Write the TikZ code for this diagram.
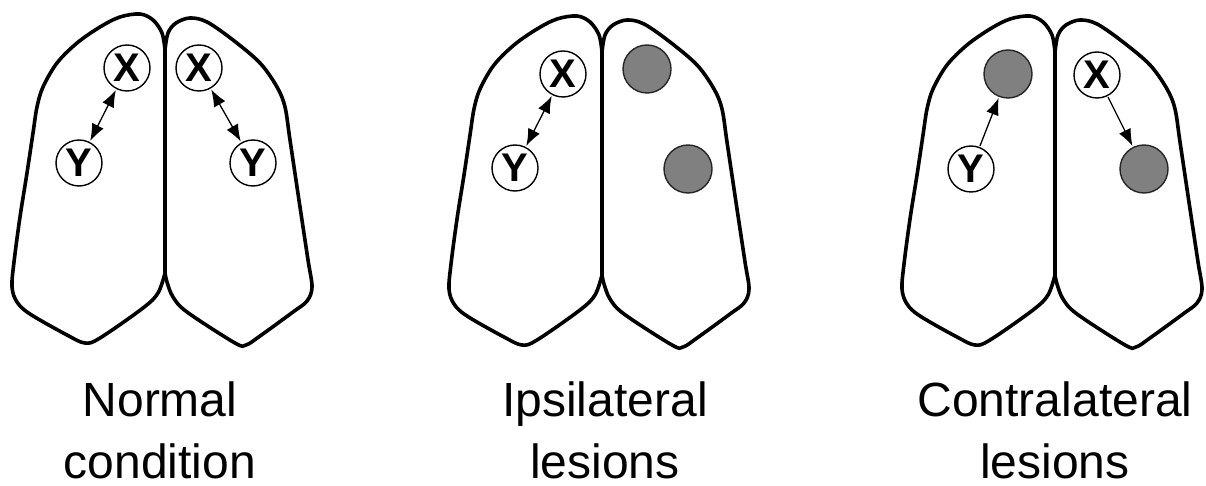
\documentclass[tikz,border=0pt]{standalone}
\usepackage{fontspec}
\setmainfont{Liberation Sans}
\usetikzlibrary{arrows.meta,positioning}
\tikzset{
  both/.style={{Latex[length=17pt,width=13pt]}-{Latex[length=17pt,width=13pt]}},
  one/.style={-{Latex[length=17pt,width=13pt]}}
}

\begin{document}
\begin{tikzpicture}[x=1pt,y=-1pt]
\tikzstyle{hemi}=[line width=3.6pt,line join=round,fill=white]
\tikzstyle{region}=[circle,draw,fill=white,line width=1.4pt,minimum size=46pt,inner sep=0pt,font=\fontsize{40}{40}\selectfont\bfseries]
\tikzstyle{lesion}=[circle,draw=black!85,fill=black!50,line width=1.4pt,minimum size=48pt,inner sep=0pt]
\tikzstyle{link}=[line width=1.3pt,shorten >=1pt,shorten <=1pt]
\tikzstyle{caption}=[align=center,anchor=base,font=\fontsize{48}{62}\selectfont]
\useasboundingbox (0,0) rectangle (1206,486);
% the three brains, seen from above
\foreach \dx/\dy in {0/0,437/2,890/2}{
\begin{scope}[shift={(\dx,\dy)}]
\draw[hemi] plot[smooth,tension=0.55] coordinates {(165,50) (162,33) (153,20) (140,14) (120,17) (100,27) (77,43) (57,63) (43,87) (37,107) (33,133) (27,173) (20,217) (14,262) (12,287) (17,302) (30,314) (67,335) (85,343) (100,338) (143,308) (158,293) (165,273)} -- cycle;
\draw[hemi] plot[smooth,tension=0.55] coordinates {(165,50) (168,33) (176,23) (190,18) (207,22) (233,40) (260,63) (277,87) (285,107) (290,140) (300,207) (308,260) (312,287) (307,301) (293,312) (260,336) (246,345) (235,343) (187,312) (173,297) (167,282) (165,273)} -- cycle;
\end{scope}}
% normal condition
\node[region] (xa) at (127,68) {X};
\node[region] (ya) at (79,163) {Y};
\node[region] (xb) at (199,68) {X};
\node[region] (yb) at (253,163) {Y};
\draw[link,both] (xa) -- (ya);
\draw[link,both] (xb) -- (yb);
% ipsilateral lesions
\node[region] (x2) at (563,74) {X};
\node[region] (y2) at (515,168) {Y};
\node[lesion] (g2a) at (647,69) {};
\node[lesion] (g2b) at (688,169) {};
\draw[link,both] (x2) -- (y2);
% contralateral lesions
\node[lesion] (g3a) at (1008,74) {};
\node[region] (y3) at (971,169) {Y};
\node[region] (x3) at (1097,75) {X};
\node[lesion] (g3b) at (1144,169) {};
\draw[link,one] (y3) -- (g3a);
\draw[link,one] (x3) -- (g3b);
% captions
\node[caption] (c1) at (160,478) {Normal\\condition};
\node[caption] (c2) at (605,478) {Ipsilateral\\lesions};
\node[caption] (c3) at (1055,478) {Contralateral\\lesions};
\end{tikzpicture}
\end{document}
